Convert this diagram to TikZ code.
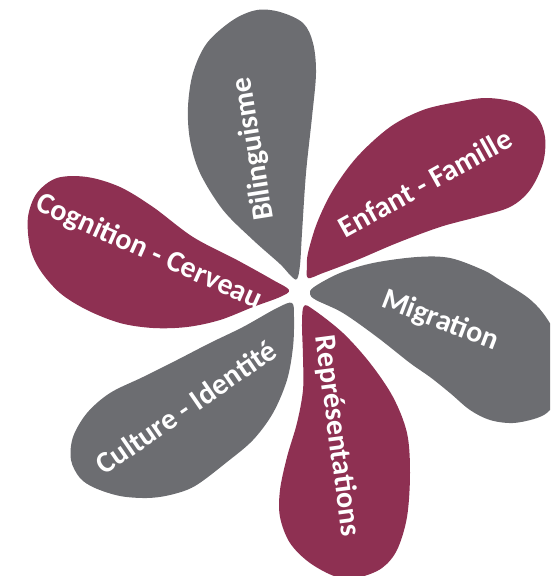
\documentclass[tikz,border=0pt]{standalone}
\usepackage{fontspec}
\setmainfont{Carlito}
\definecolor{petalred}{RGB}{142,48,82}
\definecolor{petalgray}{RGB}{108,109,113}
\tikzset{
  petal/.style={line join=round},
  redpetal/.style={petal, fill=petalred},
  graypetal/.style={petal, fill=petalgray},
  lbl/.style={text=white, font=\bfseries\fontsize{30}{32}\selectfont, inner sep=0pt}
}
\begin{document}
\begin{tikzpicture}[x=1pt,y=-1pt]
\useasboundingbox (0,0) rectangle (550,576);
\clip (0,0) rectangle (550,576);
% Bilinguisme
\fill[graypetal] plot[smooth cycle, tension=0.55] coordinates {
 (297,279) (291,276) (280,264) (253,240) (223,210) (200,173) (190,140) (188,107)
 (193,73) (207,43) (233,20) (257,10) (280,12) (303,23) (313,43) (316,73)
 (312,117) (306,173) (302,233) (300,265)};
% Enfant - Famille
\fill[redpetal] plot[smooth cycle, tension=0.55] coordinates {
 (308,278) (307,266) (308,253) (317,223) (333,190) (357,157) (390,127) (423,110)
 (457,102) (487,98) (517,103) (537,117) (545,137) (543,163) (530,190) (510,207)
 (477,217) (440,227) (397,243) (357,260) (323,273)};
% Migration
\fill[graypetal] plot[smooth cycle, tension=0.55] coordinates {
 (310,294) (314,287) (340,273) (373,263) (417,257) (450,258) (483,270) (500,280)
 (527,297) (543,313) (556,335) (563,362) (560,392) (550,410) (537,418) (513,423)
 (490,420) (470,410) (450,393) (430,377) (410,363) (377,337) (343,313) (316,300)};
% Representations
\fill[redpetal] plot[smooth cycle, tension=0.55] coordinates {
 (304,306) (314,310) (343,333) (370,363) (393,397) (407,433) (410,473) (407,517)
 (397,550) (382,568) (360,577) (337,577) (310,563) (290,543) (280,517) (280,490)
 (287,457) (297,423) (303,390) (303,357) (302,323)};
% Culture - Identite
\fill[graypetal] plot[smooth cycle, tension=0.55] coordinates {
 (292,303) (277,308) (243,327) (210,343) (177,360) (143,377) (110,393) (87,413)
 (73,437) (71,460) (80,478) (95,488) (120,496) (147,498) (170,495) (195,486)
 (227,462) (253,440) (273,413) (287,380) (293,347) (294,318)};
% Cognition - Cerveau
\fill[redpetal] plot[smooth cycle, tension=0.55] coordinates {
 (289,290) (273,280) (237,260) (193,237) (153,207) (120,187) (87,177) (57,178)
 (37,193) (28,217) (30,247) (40,270) (60,293) (87,310) (120,323) (153,328)
 (187,327) (220,320) (253,307) (280,297)};
% labels
\node[lbl, rotate=99]   (bil) at (254,149) {Bilinguisme};
\node[lbl, rotate=29]   (enf) at (425,183) {Enfant - Famille};
\node[lbl, rotate=-21]  (mig) at (440,321) {Migration};
\node[lbl, rotate=-82.5](rep) at (337,436) {Représentations};
\node[lbl, rotate=34.5] (cul) at (186,407) {Culture - Identité};
\node[lbl, rotate=-24]  (cog) at (149,252) {Cognition - Cerveau};
\end{tikzpicture}
\end{document}
